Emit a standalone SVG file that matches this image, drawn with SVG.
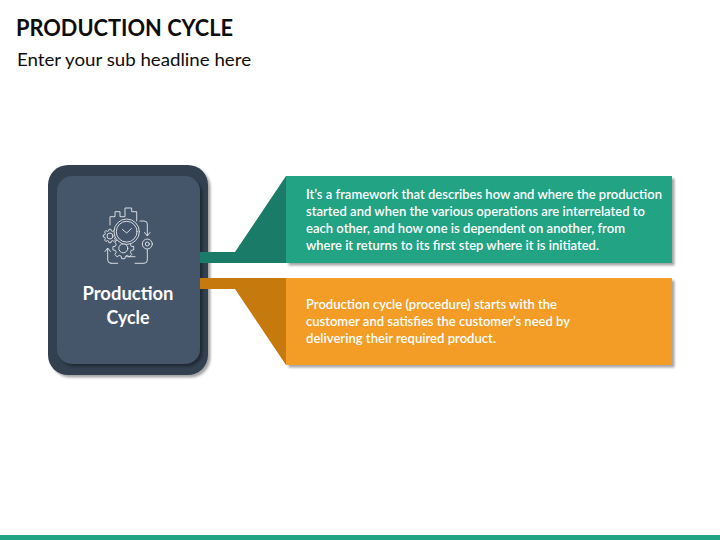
<svg xmlns="http://www.w3.org/2000/svg" width="720" height="540" viewBox="0 0 720 540">
<style>
text{font-family:Lato,"Open Sans","Liberation Sans",sans-serif}
.t{font-size:12.500px;font-weight:600;fill:#fff}
.i{fill:none;stroke:#e6e9ed;stroke-width:.9;stroke-linecap:round;stroke-linejoin:round}
.g{vector-effect:non-scaling-stroke}
</style>
<defs>
<filter id="s" x="-10%" y="-10%" width="120%" height="120%"><feDropShadow dx="2.500" dy="2.500" stdDeviation="1" flood-color="#000" flood-opacity=".35"/></filter>
<path id="gear" class="g" d="M.988 -.156L.988 .156L.753 .202L.675 .39L.809 .588L.588 .809L.39 .675L.202 .753L.156 .988L-.156 .988L-.202 .753L-.39 .675L-.588 .809L-.809 .588L-.675 .39L-.753 .202L-.988 .156L-.988 -.156L-.753 -.202L-.675 -.39L-.809 -.588L-.588 -.809L-.39 -.675L-.202 -.753L-.156 -.988L.156 -.988L.202 -.753L.39 -.675L.588 -.809L.809 -.588L.675 -.39L.753 -.202Z"/>
</defs>
<rect width="720" height="540" fill="#fff"/>
<g id="title">
<text x="16" y="36" font-size="22.500" font-weight="700" fill="#0d0d0d" textLength="217" lengthAdjust="spacingAndGlyphs">PRODUCTION CYCLE</text>
<text x="17" y="66" font-size="17" fill="#0d0d0d" textLength="234" lengthAdjust="spacingAndGlyphs">Enter your sub headline here</text>
</g>
<g id="node-production">
<rect x="48" y="165" width="160" height="210" rx="20" fill="#333f50" filter="url(#s)"/>
<rect x="57" y="176" width="143" height="188" rx="15" fill="#44546a" filter="url(#s)"/>
<g class="i">
<path d="M110 225V216.700H115V211.700H120V216.700H125V208H131.700V211.700H136.700V221"/>
<use href="#gear" transform="translate(110 236) scale(6.800)"/>
<circle cx="110" cy="236" r="3"/>
<use href="#gear" transform="translate(123.300 248.300) scale(10.500)"/>
<circle cx="123.300" cy="248.300" r="4.500"/>
<circle cx="126.700" cy="231.700" r="12.700" fill="#44546a"/>
<circle cx="126.700" cy="231.700" r="10.400"/>
<path d="M122.500 229.500L126.700 233L131.500 228.500"/>
<path d="M140 221H144Q147.300 221 147.300 224V235.500M144.500 232.500L147.300 236L150 232.500"/>
<circle cx="147.300" cy="244" r="5"/><circle cx="147.300" cy="244" r="2"/>
<path d="M147.300 249.500V260Q147.300 263.300 144 263.300H135M111 263.300H117.700M111 263.300Q107.700 263.300 107.700 260V248.500M105 251.500L107.700 248L110.500 251.500M126.700 256.700H135"/>
</g>
<text x="128" y="299.500" font-size="18" font-weight="700" fill="#fff" text-anchor="middle" textLength="91" lengthAdjust="spacingAndGlyphs">Production</text>
<text x="128" y="323.500" font-size="18" font-weight="700" fill="#fff" text-anchor="middle" textLength="43" lengthAdjust="spacingAndGlyphs">Cycle</text>
</g>
<g id="node-framework">
<rect x="286" y="176" width="386" height="87" fill="#20a384" filter="url(#s)"/>
<text class="t" x="306" y="199" textLength="356" lengthAdjust="spacingAndGlyphs">It’s a framework that describes how and where the production</text>
<text class="t" x="306" y="216" textLength="339" lengthAdjust="spacingAndGlyphs">started and when the various operations are interrelated to</text>
<text class="t" x="306" y="233" textLength="319" lengthAdjust="spacingAndGlyphs">each other, and how one is dependent on another, from</text>
<text class="t" x="306" y="250" textLength="293" lengthAdjust="spacingAndGlyphs">where it returns to its first step where it is initiated.</text>
</g>
<g id="node-procedure">
<rect x="286" y="278" width="386" height="87" fill="#f39c27" filter="url(#s)"/>
<text class="t" x="306" y="309" textLength="251" lengthAdjust="spacingAndGlyphs">Production cycle (procedure) starts with the</text>
<text class="t" x="306" y="326" textLength="264" lengthAdjust="spacingAndGlyphs">customer and satisfies the customer’s need by</text>
<text class="t" x="306" y="343" textLength="190" lengthAdjust="spacingAndGlyphs">delivering their required product.</text>
</g>
<g id="connectors">
<path d="M200 252H235L286 176V263H200Z" fill="#1a7c68"/>
<path d="M200 278H286V365L235 289H200Z" fill="#c6790c"/>
</g>
<rect id="footer" y="535" width="720" height="5" fill="#20a384"/>
</svg>
